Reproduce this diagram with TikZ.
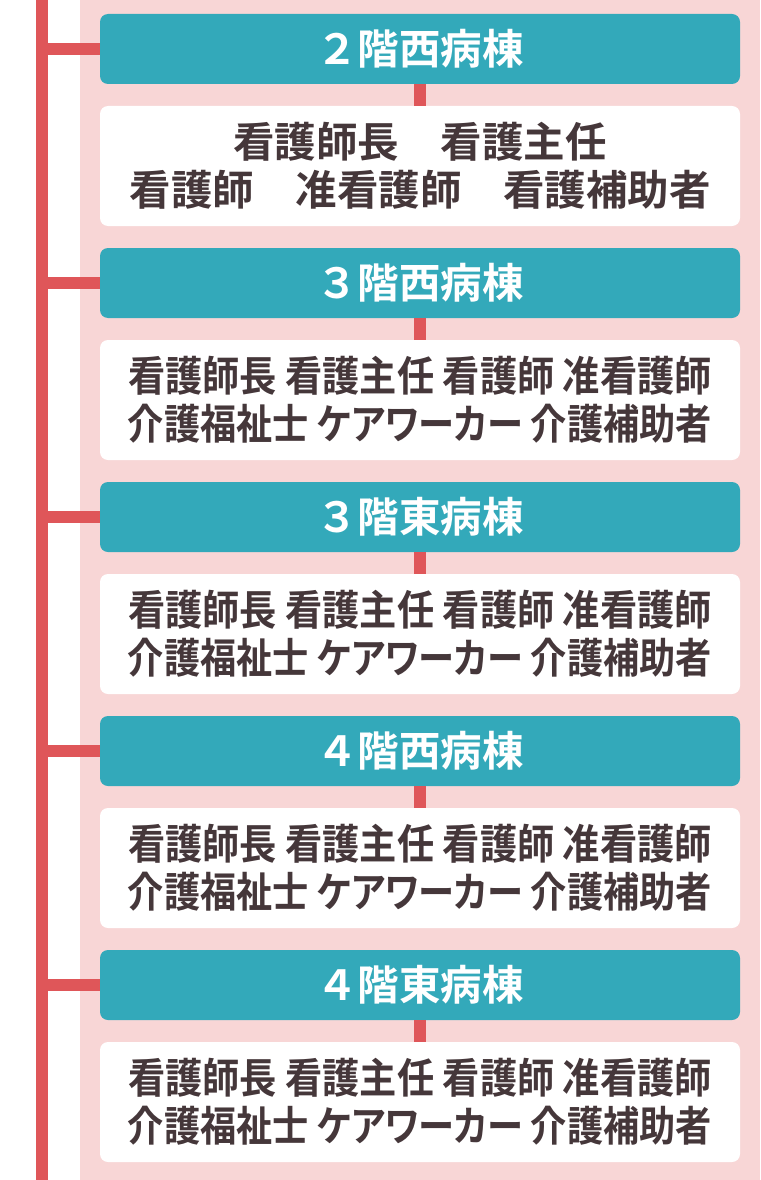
\documentclass[tikz,border=0pt]{standalone}
\usepackage{fontspec}
\usepackage{graphicx}
\newfontfamily\jpfont{Noto Sans CJK JP}[BoldFont={* Bold}]
\newfontfamily\jpfontp{Noto Sans CJK JP}[BoldFont={* Bold},RawFeature=+palt]
\definecolor{bgpink}{HTML}{F8D6D6}
\definecolor{teal}{HTML}{33A9BA}
\definecolor{linered}{HTML}{DF5659}
\definecolor{txtbrown}{HTML}{45373A}
\newcommand{\fitw}[2]{\resizebox{#1}{\height}{#2}}
\tikzset{
  wardhead/.style={rectangle, rounded corners=8pt, fill=teal, minimum width=640pt, minimum height=70pt, inner sep=0pt,
    text=white, font=\jpfont\bfseries\fontsize{41.5}{41.5}\selectfont},
  staffbox/.style={rectangle, rounded corners=8pt, fill=white, minimum width=640pt, minimum height=120pt, inner sep=0pt,
    text=txtbrown, align=center, font=\jpfontp\bfseries\fontsize{41.5}{48}\selectfont},
  redline/.style={draw=linered, line width=12pt},
}
\begin{document}
\begin{tikzpicture}[x=1pt,y=-1pt]
\useasboundingbox (0,0) rectangle (760,1180);
\fill[bgpink] (80,0) rectangle (760,1180);
\coordinate (trunktop) at (42,0);
\coordinate (trunkbot) at (42,1180);
\draw[redline] (trunktop) -- (trunkbot);
% headers
\node[wardhead] (h1) at (420,49) {２階西病棟};
\node[wardhead] (h2) at (420,283) {３階西病棟};
\node[wardhead] (h3) at (420,517) {３階東病棟};
\node[wardhead] (h4) at (420,751) {４階西病棟};
\node[wardhead] (h5) at (420,985) {４階東病棟};
% staff boxes
\node[staffbox, font=\jpfont\bfseries\fontsize{41.5}{48}\selectfont] (b1) at (420,166) {看護師長　看護主任\\看護師　准看護師　看護補助者};
\node[staffbox] (b2) at (420,400) {\fitw{584pt}{看護師長 看護主任 看護師 准看護師}\\\fitw{584pt}{介護福祉士 ケアワーカー 介護補助者}};
\node[staffbox] (b3) at (420,634) {\fitw{584pt}{看護師長 看護主任 看護師 准看護師}\\\fitw{584pt}{介護福祉士 ケアワーカー 介護補助者}};
\node[staffbox] (b4) at (420,868) {\fitw{584pt}{看護師長 看護主任 看護師 准看護師}\\\fitw{584pt}{介護福祉士 ケアワーカー 介護補助者}};
\node[staffbox] (b5) at (420,1102) {\fitw{584pt}{看護師長 看護主任 看護師 准看護師}\\\fitw{584pt}{介護福祉士 ケアワーカー 介護補助者}};
% connectors
\foreach \i in {1,...,5}{
  \draw[redline] (trunktop |- h\i.west) -- (h\i.west);
  \draw[redline] (h\i.south) -- (b\i.north);
}
\end{tikzpicture}
\end{document}
